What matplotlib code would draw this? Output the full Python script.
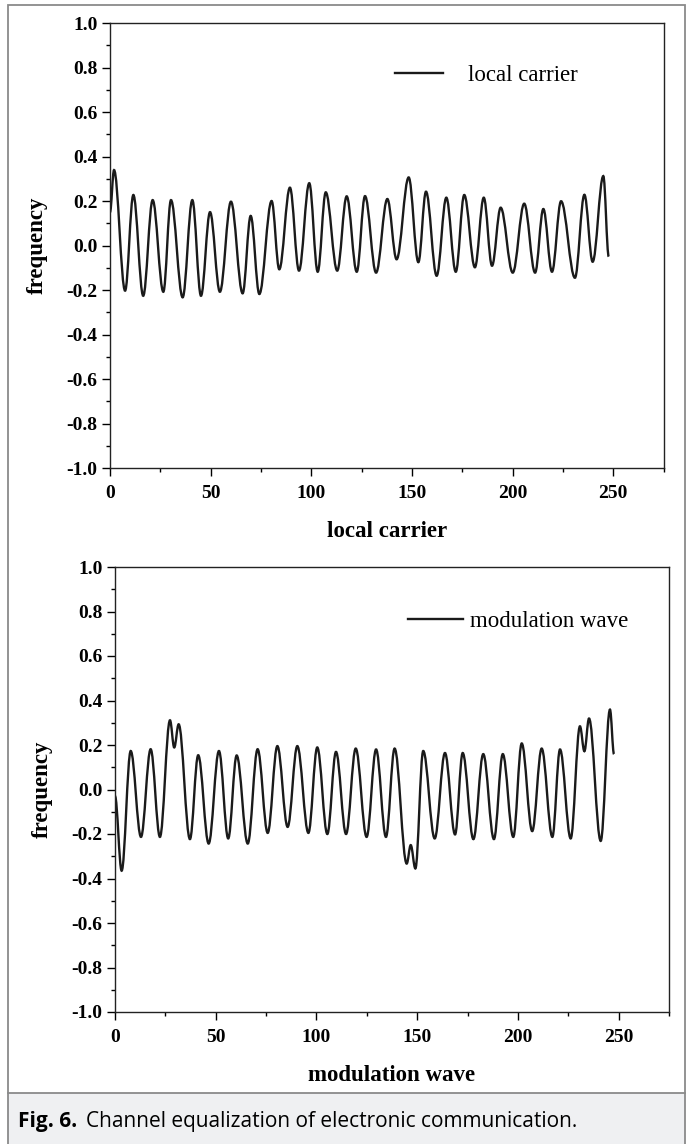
import matplotlib
matplotlib.use("Agg")
import matplotlib.pyplot as plt
from matplotlib.path import Path
from matplotlib.patches import PathPatch, Rectangle
from matplotlib.lines import Line2D
from matplotlib.ticker import MultipleLocator, FormatStrFormatter

# ---- data: turning points (x, value) ----
carrier_x = [0, 2.0, 7.5, 11.6, 16.5, 21.2, 26.5, 30.3, 36.1, 40.9, 45.2, 49.7, 54.6,
             60.1, 65.9, 69.9, 74.2, 80.3, 84.1, 89.4, 93.9, 99.0, 103.2, 107.2, 112.9,
             117.6, 122.6, 126.7, 132.2, 137.8, 142.4, 148.4, 153.2, 157.0, 162.3, 167.1,
             171.8, 176.0, 181.3, 185.7, 189.8, 194.1, 200.1, 205.8, 211.2, 215.3, 219.6,
             224.1, 231.0, 235.7, 239.8, 245.1, 247.8]
carrier_y = [0.15, 0.339, -0.203, 0.227, -0.226, 0.204, -0.208, 0.204, -0.233, 0.204,
             -0.226, 0.150, -0.208, 0.197, -0.215, 0.133, -0.218, 0.200, -0.107, 0.260,
             -0.113, 0.280, -0.118, 0.239, -0.113, 0.221, -0.118, 0.222, -0.122, 0.209,
             -0.062, 0.306, -0.075, 0.242, -0.136, 0.215, -0.118, 0.227, -0.098, 0.215,
             -0.091, 0.170, -0.122, 0.188, -0.122, 0.164, -0.118, 0.199, -0.145, 0.228,
             -0.073, 0.312, -0.050]

mod_x = [0, 3.3, 7.8, 12.9, 17.7, 22.3, 27.3, 29.4, 31.6, 37.2, 41.3, 46.5, 51.6, 56.2,
         60.4, 65.9, 70.8, 75.8, 80.6, 85.7, 90.5, 96.0, 100.4, 105.4, 109.7, 114.7,
         119.5, 124.9, 129.6, 134.5, 138.8, 144.8, 146.8, 149.1, 153.0, 158.7, 163.8,
         168.8, 172.6, 177.9, 182.8, 188.1, 192.5, 197.7, 201.9, 207.1, 211.8, 217.1,
         220.9, 226.2, 230.8, 233.0, 235.3, 241.1, 245.7, 247.7]
mod_y = [-0.03, -0.365, 0.173, -0.213, 0.181, -0.213, 0.311, 0.189, 0.293, -0.223, 0.154,
         -0.243, 0.173, -0.220, 0.153, -0.243, 0.181, -0.195, 0.195, -0.168, 0.195,
         -0.195, 0.189, -0.200, 0.169, -0.200, 0.184, -0.213, 0.180, -0.213, 0.184,
         -0.333, -0.250, -0.355, 0.173, -0.220, 0.164, -0.202, 0.164, -0.223, 0.159,
         -0.223, 0.159, -0.213, 0.207, -0.187, 0.184, -0.213, 0.180, -0.220, 0.284,
         0.172, 0.319, -0.231, 0.359, 0.159]

x_ticks = [0, 50, 100, 150, 200, 250]
y_ticks = [-1.0, -0.8, -0.6, -0.4, -0.2, 0.0, 0.2, 0.4, 0.6, 0.8, 1.0]
panel_xlabels = ["local carrier", "modulation wave"]
legend_labels = ["local carrier", "modulation wave"]
ylabel = "frequency"
caption_bold = "Fig. 6."
caption_text = "Channel equalization of electronic communication."

SERIF = ["Liberation Serif", "DejaVu Serif"]
SANS = ["Open Sans", "DejaVu Sans"]


def wave_path(xs, ys, k=0.3642):
    verts = [(xs[0], ys[0])]
    codes = [Path.MOVETO]
    for i in range(1, len(xs)):
        x0, y0, x1, y1 = xs[i - 1], ys[i - 1], xs[i], ys[i]
        dx = x1 - x0
        verts += [(x0 + k * dx, y0), (x1 - k * dx, y1), (x1, y1)]
        codes += [Path.CURVE4] * 3
    return Path(verts, codes)


W, H = 690, 1144
fig = plt.figure(figsize=(W / 100, H / 100), dpi=100)
fig.patch.set_facecolor("white")

# outer frame & caption band
fig.add_artist(Rectangle((8 / W, 0), (685 - 8) / W, (H - 1093) / H, transform=fig.transFigure,
                         facecolor="#eff0f2", edgecolor="none", zorder=0))
fig.add_artist(Rectangle((8 / W, -0.01), (685 - 8) / W, (H - 5) / H + 0.01, transform=fig.transFigure,
                         facecolor="none", edgecolor="#8a8a8a", linewidth=1.3, zorder=1))
fig.add_artist(Line2D([8 / W, 685 / W], [(H - 1093) / H] * 2, transform=fig.transFigure,
                      color="#8a8a8a", linewidth=1.3))

axes_boxes = [
    [110 / W, 1 - 468 / H, 553.5 / W, 445 / H],
    [115 / W, 1 - 1012 / H, 554 / W, 445 / H],
]
series = [(carrier_x, carrier_y), (mod_x, mod_y)]
legend_anchor = [(0.515, 0.883), (0.529, 0.877)]
legend_hl = [2.1, 2.4]
legend_pad = [1.1, 0.3]

for i, box in enumerate(axes_boxes):
    ax = fig.add_axes(box)
    xs, ys = series[i]
    ax.add_patch(PathPatch(wave_path(xs, ys), facecolor="none", edgecolor="#1a1a1a",
                           linewidth=1.7, capstyle="butt"))
    ax.set_xlim(0, 275)
    ax.set_ylim(-1.0, 1.0)
    ax.xaxis.set_minor_locator(MultipleLocator(25))
    ax.yaxis.set_minor_locator(MultipleLocator(0.1))
    ax.yaxis.set_major_formatter(FormatStrFormatter("%.1f"))
    ax.set_xticks(x_ticks)
    ax.set_yticks(y_ticks)
    ax.tick_params(which="major", direction="out", length=5.5, width=1.0,
                   top=False, right=False)
    ax.tick_params(axis="x", which="major", pad=6.5)
    ax.tick_params(axis="y", which="major", pad=3.5)
    ax.tick_params(which="minor", direction="out", length=3, width=1.0,
                   top=False, right=False)
    for lab in ax.get_xticklabels() + ax.get_yticklabels():
        lab.set_fontfamily(SERIF)
        lab.set_fontweight("bold")
        lab.set_fontsize(14)
    for sp in ax.spines.values():
        sp.set_linewidth(1.0)
        sp.set_color("#222222")
    ax.set_xlabel(panel_xlabels[i], fontfamily=SERIF, fontweight="bold", fontsize=16.5,
                  labelpad=14)
    ax.set_ylabel(ylabel, fontfamily=SERIF, fontweight="bold", fontsize=16.5, labelpad=13)
    handle = Line2D([], [], color="#1a1a1a", linewidth=1.7)
    ax.legend([handle], [legend_labels[i]], loc="center left",
              bbox_to_anchor=legend_anchor[i], frameon=False, borderaxespad=0,
              borderpad=0, handlelength=legend_hl[i], handletextpad=legend_pad[i],
              prop={"family": SERIF, "size": 16.5})

cap_y = 1 - 1121 / H
t1 = fig.text(18 / W, cap_y, caption_bold, fontfamily=SANS, fontweight="bold",
              fontsize=15, va="center", ha="left")
fig.canvas.draw()
bb = t1.get_window_extent()
fig.text((bb.x1 + 9) / W, cap_y, caption_text, fontfamily=SANS, fontsize=15,
         va="center", ha="left")

fig.savefig("out.png", dpi=100)
